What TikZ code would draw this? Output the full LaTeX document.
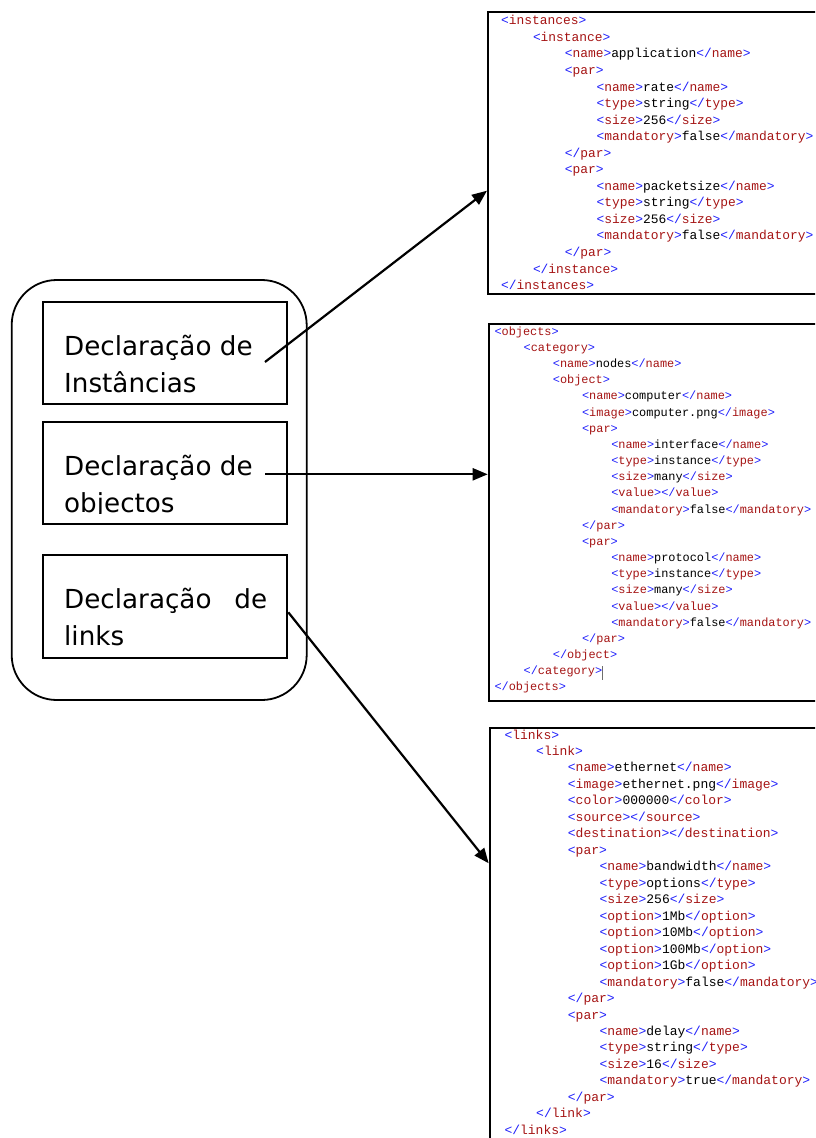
\documentclass[tikz,border=0pt]{standalone}
\usepackage{fontspec}
\setmainfont{DejaVu Sans}
\newfontfamily\xmlfont{Liberation Mono}
\usetikzlibrary{arrows.meta}
\definecolor{tagblue}{RGB}{30,30,250}
\definecolor{tagred}{RGB}{165,20,20}
\definecolor{caret}{RGB}{110,110,110}
% opening and closing XML tags
\newcommand\tg[1]{\textcolor{tagblue}{<}\textcolor{tagred}{#1}\textcolor{tagblue}{>}}
\newcommand\te[1]{\textcolor{tagblue}{</}\textcolor{tagred}{#1}\textcolor{tagblue}{>}}
\tikzset{
  panel/.style={draw, line width=2pt, anchor=north west, inner sep=0pt},
  declbox/.style={draw, line width=2pt, minimum width=244.6pt, minimum height=102.6pt, inner sep=0pt},
  frame/.style={draw, line width=1.8pt, rounded corners=45pt, minimum width=295pt, minimum height=420pt, inner sep=0pt},
  decltext/.style={anchor=base west, inner sep=0pt, font=\fontsize{26.2}{30}\selectfont},
  xmlline/.style={anchor=base west, inner sep=0pt},
  link/.style={line width=2.2pt, -{Triangle[length=15pt,width=12pt]}},
}
\begin{document}
\begin{tikzpicture}[x=1pt,y=-1pt]
\useasboundingbox (0,0) rectangle (815,1138);
\clip (0,0) rectangle (815,1138);

% XML panels (right edges run off the page)
\node[panel, minimum width=360pt, minimum height=282.5pt] (inst) at (487,10.5) {};
\node[panel, minimum width=360pt, minimum height=377.3pt] (objs) at (487.7,322.7) {};
\node[panel, minimum width=360pt, minimum height=500pt] (lnks) at (488.7,727) {};

% instances
\begin{scope}[font=\xmlfont\fontsize{12.9}{15}\selectfont]
\foreach \lv/\tx [count=\i from 0] in {
  0/{\tg{instances}},
  1/{\tg{instance}},
  2/{\tg{name}application\te{name}},
  2/{\tg{par}},
  3/{\tg{name}rate\te{name}},
  3/{\tg{type}string\te{type}},
  3/{\tg{size}256\te{size}},
  3/{\tg{mandatory}false\te{mandatory}},
  2/{\te{par}},
  2/{\tg{par}},
  3/{\tg{name}packetsize\te{name}},
  3/{\tg{type}string\te{type}},
  3/{\tg{size}256\te{size}},
  3/{\tg{mandatory}false\te{mandatory}},
  2/{\te{par}},
  1/{\te{instance}},
  0/{\te{instances}}}
  \node[xmlline] (ia-\i) at (501+31.8*\lv, 24.9+16.54*\i) {\tx};
\end{scope}

% objects
\begin{scope}[font=\xmlfont\fontsize{11.9}{14}\selectfont]
\foreach \lv/\tx [count=\i from 0] in {
  0/{\tg{objects}},
  1/{\tg{category}},
  2/{\tg{name}nodes\te{name}},
  2/{\tg{object}},
  3/{\tg{name}computer\te{name}},
  3/{\tg{image}computer.png\te{image}},
  3/{\tg{par}},
  4/{\tg{name}interface\te{name}},
  4/{\tg{type}instance\te{type}},
  4/{\tg{size}many\te{size}},
  4/{\tg{value}\te{value}},
  4/{\tg{mandatory}false\te{mandatory}},
  3/{\te{par}},
  3/{\tg{par}},
  4/{\tg{name}protocol\te{name}},
  4/{\tg{type}instance\te{type}},
  4/{\tg{size}many\te{size}},
  4/{\tg{value}\te{value}},
  4/{\tg{mandatory}false\te{mandatory}},
  3/{\te{par}},
  2/{\te{object}},
  1/{\te{category}},
  0/{\te{objects}}}
  \node[xmlline] (ob-\i) at (494.3+29.2*\lv, 335.3+16.16*\i) {\tx};
\end{scope}
% text cursor after </category>
\draw[caret, line width=1.5pt] (602.7,666) -- (602.7,679.5);

% links
\begin{scope}[font=\xmlfont\fontsize{13}{15}\selectfont]
\foreach \lv/\tx [count=\i from 0] in {
  0/{\tg{links}},
  1/{\tg{link}},
  2/{\tg{name}ethernet\te{name}},
  2/{\tg{image}ethernet.png\te{image}},
  2/{\tg{color}000000\te{color}},
  2/{\tg{source}\te{source}},
  2/{\tg{destination}\te{destination}},
  2/{\tg{par}},
  3/{\tg{name}bandwidth\te{name}},
  3/{\tg{type}options\te{type}},
  3/{\tg{size}256\te{size}},
  3/{\tg{option}1Mb\te{option}},
  3/{\tg{option}10Mb\te{option}},
  3/{\tg{option}100Mb\te{option}},
  3/{\tg{option}1Gb\te{option}},
  3/{\tg{mandatory}false\te{mandatory}},
  2/{\te{par}},
  2/{\tg{par}},
  3/{\tg{name}delay\te{name}},
  3/{\tg{type}string\te{type}},
  3/{\tg{size}16\te{size}},
  3/{\tg{mandatory}true\te{mandatory}},
  2/{\te{par}},
  1/{\te{link}},
  0/{\te{links}}}
  \node[xmlline] (lk-\i) at (504.3+31.7*\lv, 739+16.47*\i) {\tx};
\end{scope}

% declaration blocks
\node[frame] (frm) at (159.2,490) {};
\node[declbox] (b1) at (165,353) {};
\node[declbox] (b2) at (165,473) {};
\node[declbox] (b3) at (165,606.4) {};

\node[decltext] (t1a) at (64,355) {Declaração de};
\node[decltext] (t1b) at (64,392.3) {Instâncias};
\node[decltext] (t2a) at (64,475.7) {Declaração de};
\begin{scope}
  \clip (40,480) rectangle (290,513);
  \node[decltext] (t2b) at (64,512.5) {objectos};
\end{scope}
\node[decltext] (t3a) at (64,608.3) {\makebox[203pt][s]{Declaração de}};
\node[decltext] (t3b) at (64,645) {links};

% connector end points
\coordinate (s1) at (265,362);
\coordinate (s2) at (265,474.3);
\coordinate (s3) at (b3.east |- 0,612.3);
\coordinate (e1) at (inst.west |- 0,190.7);
\coordinate (e2) at (objs.west |- 0,474.3);
\coordinate (e3) at (lnks.west |- 0,863.3);

\draw[link] (s1) -- (e1);
\draw[link] (s2) -- (e2);
\draw[link] (s3) -- (e3);
\end{tikzpicture}
\end{document}
